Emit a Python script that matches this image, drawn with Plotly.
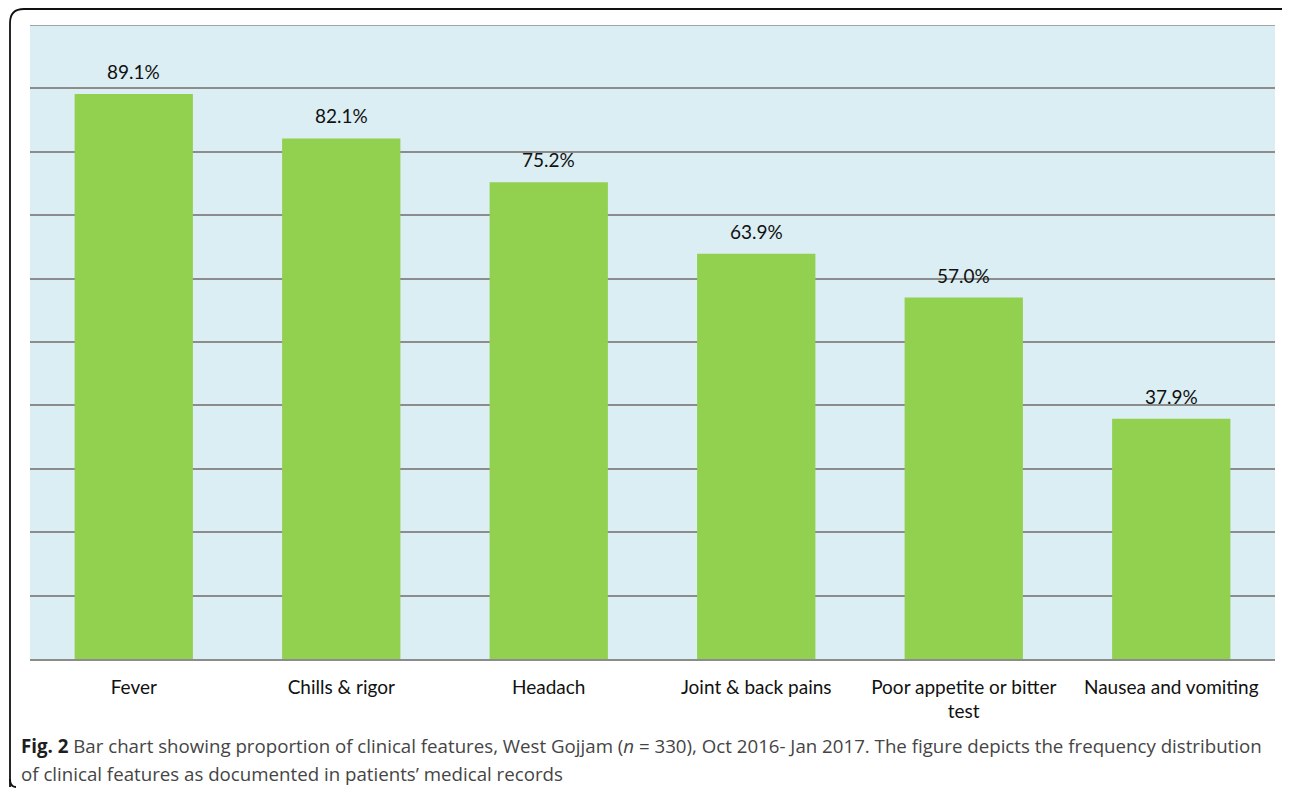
import plotly.graph_objects as go

categories = ["Fever", "Chills & rigor", "Headach", "Joint & back pains",
              "Poor appetite or bitter<br>test", "Nausea and vomiting"]
values = [89.1, 82.1, 75.2, 63.9, 57.0, 37.9]
labels = ["89.1%", "82.1%", "75.2%", "63.9%", "57.0%", "37.9%"]

# page has an 8px body margin, so the figure is drawn 8px in from the corner
OFF = 8
W, H = 1290 - OFF, 789 - OFF
ML, MR, MT, MB = 30 - OFF, 15, 25 - OFF, 130

FONT = "Lato, Open Sans, sans-serif"

fig = go.Figure(go.Bar(
    x=categories, y=values,
    marker=dict(color="#92D050", line=dict(width=0)),
    hoverinfo="x+y",
))

for c, v, t in zip(categories, values, labels):
    fig.add_annotation(x=c, y=v, text=t, showarrow=False, yanchor="bottom",
                       yshift=9, font=dict(family=FONT, size=19, color="#111"))

fig.update_layout(
    width=W, height=H,
    margin=dict(l=ML, r=MR, t=MT, b=MB),
    paper_bgcolor="white", plot_bgcolor="#DAEEF3",
    bargap=0.43, showlegend=False,
    font=dict(family=FONT, size=19, color="#111"),
)
fig.update_xaxes(showgrid=False, showline=True, linecolor="#8C8C8C", linewidth=1.5,
                 ticks="outside", ticklen=10, tickcolor="rgba(0,0,0,0)",
                 tickfont=dict(family=FONT, size=19, color="#111"))
fig.update_yaxes(range=[0, 100], dtick=10, showgrid=True, gridcolor="#8C8C8C",
                 gridwidth=1.5, showticklabels=False, zeroline=False,
                 showline=False)

# top gridline at 100
fig.add_shape(type="line", xref="paper", yref="y", x0=0, x1=1, y0=100, y1=100,
              line=dict(color="#8C8C8C", width=1.5))

pw = W - ML - MR
ph = H - MT - MB
def px(x):
    return (x - OFF - ML) / pw
def py(y):
    return (H - MB - (y - OFF)) / ph

# outer rounded border (reference pixel coordinates)
x0, x1, y0, y1, r = 10, 1289, 9, 789, 14
path = (f"M {px(x0)},{py(y1-2)} "
        f"L {px(x0)},{py(y0 + r)} "
        f"Q {px(x0)},{py(y0)} {px(x0 + r)},{py(y0)} "
        f"L {px(x1 - 3)},{py(y0)} "
        f"Q {px(x1)},{py(y0)} {px(x1)},{py(y0 + 4)}")
fig.add_shape(type="path", xref="paper", yref="paper", path=path,
              line=dict(color="#111", width=1.8))
path2 = (f"M {px(x0)},{py(y1 - 10)} Q {px(x0)},{py(y1-2)} {px(x0 + 6)},{py(y1-2)}")
fig.add_shape(type="path", xref="paper", yref="paper", path=path2,
              line=dict(color="#111", width=1.8))

cap1 = ("<b><span style='color:#1e1e1e'>Fig. 2</span></b> Bar chart showing proportion of clinical features, West Gojjam "
        "(<i>n</i> = 330), Oct 2016- Jan 2017. The figure depicts the frequency distribution")
cap2 = "of clinical features as documented in patients\u2019 medical records"
for txt, yc in [(cap1, 745), (cap2, 773)]:
    fig.add_annotation(text=txt, xref="paper", yref="paper", x=px(19), y=py(yc),
                       xanchor="left", yanchor="middle", showarrow=False,
                       font=dict(family="Open Sans, Noto Sans, sans-serif", size=18.7,
                                 color="#454545"))

fig.write_html("out.html")
